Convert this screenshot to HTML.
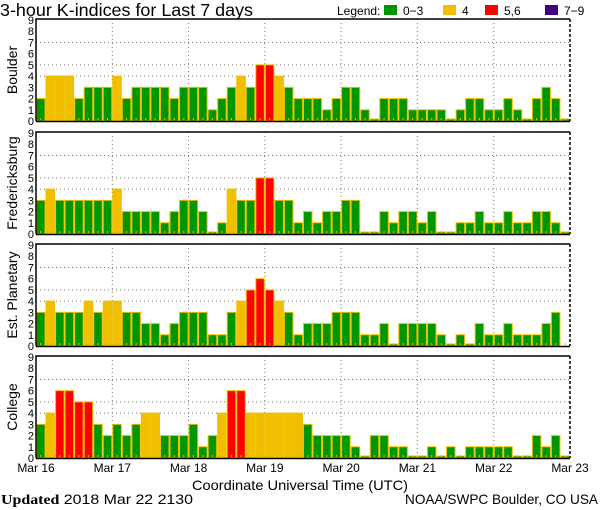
<!DOCTYPE html>
<html><head><meta charset="utf-8"><style>
html,body{margin:0;padding:0;background:#fff;}
svg{display:block;font-family:"Liberation Sans",sans-serif;}
</style></head><body>
<svg id="chart" width="600" height="510" viewBox="0 0 600 510" xmlns="http://www.w3.org/2000/svg">
<text x="0" y="16" font-size="17.5" fill="#000" textLength="253" lengthAdjust="spacingAndGlyphs">3-hour K-indices for Last 7 days</text>
<g font-size="12">
<text x="337" y="15">Legend:</text>
<rect x="384" y="5" width="13" height="10" fill="#009600"/>
<text x="403" y="15">0−3</text>
<rect x="443" y="5" width="13" height="10" fill="#f0c000"/>
<text x="462" y="15">4</text>
<rect x="485" y="5" width="13" height="10" fill="#ff0000"/>
<text x="504" y="15">5,6</text>
<rect x="545" y="5" width="13" height="10" fill="#400080"/>
<text x="564" y="15">7−9</text>
</g>
<text x="300" y="490" font-size="14" text-anchor="middle" textLength="216" lengthAdjust="spacingAndGlyphs">Coordinate Universal Time (UTC)</text>
<text x="1" y="504" font-size="14" textLength="192" lengthAdjust="spacingAndGlyphs"><tspan font-family="Liberation Serif,serif" font-weight="bold">Updated</tspan> 2018 Mar 22 2130</text>
<text x="598" y="504" font-size="14" text-anchor="end" textLength="193" lengthAdjust="spacingAndGlyphs">NOAA/SWPC Boulder, CO USA</text>
</svg>
<script>
const stations = ["Boulder","Fredericksburg","Est. Planetary","College"];
const dayLabels = ["Mar 16","Mar 17","Mar 18","Mar 19","Mar 20","Mar 21","Mar 22","Mar 23"];
const yTicks = [0,1,2,3,4,5,6,7,8,9];
const gridLevels = [4,5,7];
const boulder = [2,4,4,4,2,3,3,3, 4,2,3,3,3,3,2,3, 3,3,1,2,3,4,3,5, 5,4,3,2,2,2,1,2, 3,3,1,0,2,2,2,1, 1,1,1,0,1,2,2,1, 1,2,1,0,2,3,2,0];
const fredericksburg = [3,4,3,3,3,3,3,3, 4,2,2,2,2,1,2,3, 3,2,0,1,4,3,3,5, 5,3,3,1,2,1,2,2, 3,3,0,0,2,1,2,2, 1,2,0,0,1,1,2,1, 1,2,1,1,2,2,1,0];
const planetary = [3,4,3,3,3,4,3,4, 4,3,3,2,2,1,2,3, 3,3,1,1,3,4,5,6, 5,4,3,1,2,2,2,3, 3,3,1,1,2,0,2,2, 2,2,1,0,1,0,2,1, 1,2,1,1,1,2,3,null];
const college = [3,4,6,6,5,5,3,2, 3,2,3,4,4,2,2,2, 3,1,2,4,6,6,4,4, 4,4,4,4,3,2,2,2, 2,1,0,2,2,1,1,0, 0,1,0,1,0,1,1,1, 1,1,0,0,2,1,2,0];
const seriesList = [boulder,fredericksburg,planetary,college];

const NS="http://www.w3.org/2000/svg";
const svg=document.getElementById('chart');
const X0=36,X1=570,PH=102;
const panelTops=[19,132,244,356];
const nBars=56;
const xBar=i=>X0+i*(X1-X0)/nBars;
const xDay=d=>X0+d*(X1-X0)/7;
function mk(tag,attrs,parent){const e=document.createElementNS(NS,tag);for(const k in attrs)e.setAttribute(k,attrs[k]);(parent||svg).appendChild(e);return e;}
function color(v){return v>=7?"#400080":v>=5?"#ff0000":v===4?"#f0c000":"#009600";}

stations.forEach((name,p)=>{
  const top=panelTops[p],bot=top+PH;
  const y=v=>bot-v*(PH-1)/9;
  const g=mk('g',{});
  
  
  gridLevels.forEach(l=>{const e=mk('line',{x1:X0,x2:X1,y1:y(l),y2:y(l),stroke:'#777','stroke-dasharray':'1 3'},g);
    
    });
  for(let d=1;d<7;d++){const e=mk('line',{x1:xDay(d),x2:xDay(d),y1:top,y2:bot,stroke:'#777','stroke-dasharray':'1 3'},g);
    
    }
  const data=seriesList[p];
  data.forEach((v,i)=>{
    const x=xBar(i),w=(X1-X0)/nBars;
    if(v!==null){
      const h=Math.max(v===0?2:0,bot-y(v));
      const r=mk('rect',{x:x+0.5,y:bot-h,width:w-1,height:h,fill:color(v),stroke:'#f0c000','stroke-width':1},g);
      
      
    }
    const t=mk('rect',{x:x+w/2-0.5,y:bot-3,width:1,height:2,fill:'#f0c000'},g);
    
    
  });
  const b1=mk('path',{d:`M${X0},${bot}V${top}H${X1}`,fill:'none',stroke:'#000','stroke-width':1.5},g);
  
  
  const b2=mk('line',{x1:X1,x2:X1,y1:top,y2:bot,stroke:'#000','stroke-width':1.5,'stroke-dasharray':'3 2'},g);
  
  
  const b3=mk('line',{x1:X0,x2:X1,y1:bot+0.5,y2:bot+0.5,stroke:'#000','stroke-width':1.5},g);
  
  
  yTicks.forEach(t=>{const e=mk('text',{x:34,y:y(t)+4,'font-size':11,'text-anchor':'end'},g);e.textContent=t;
    
    });
  const lab=mk('text',{transform:`translate(17,${top+PH/2}) rotate(-90)`,'font-size':14,'text-anchor':'middle'},g);
  lab.textContent=name;
  
  
});
dayLabels.forEach((d,i)=>{const e=mk('text',{x:xDay(i),y:472,'font-size':12,'text-anchor':'middle'});e.textContent=d;
  
  });
</script>
</body></html>
